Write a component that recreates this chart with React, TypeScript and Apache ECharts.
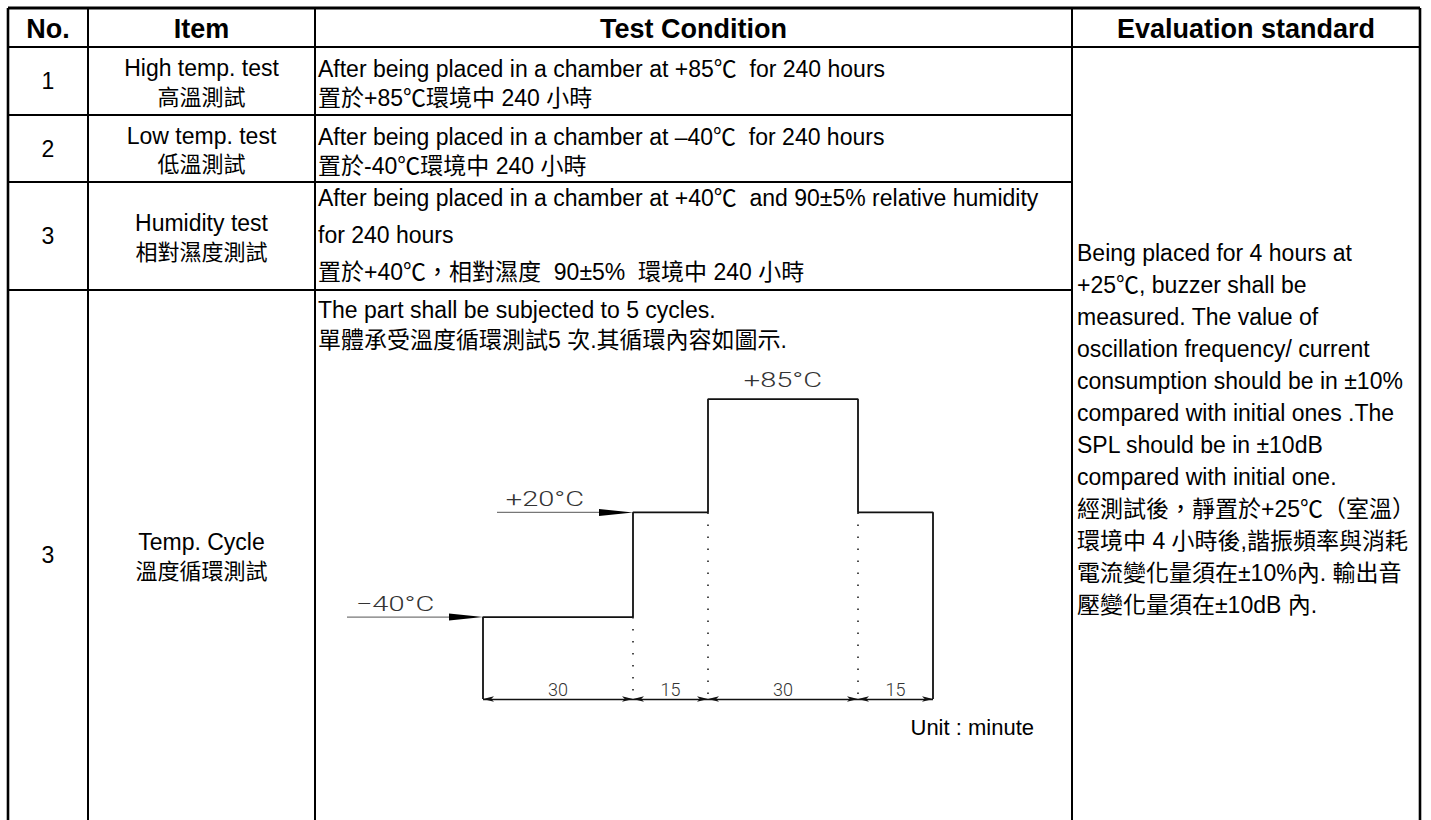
import React, { useEffect, useRef } from "react";
import * as echarts from "echarts";

// ---------------- data ----------------
const HEADERS = ["No.", "Item", "Test Condition", "Evaluation standard"];
const NOS = ["1", "2", "3", "3"];
const ITEMS_EN = ["High temp. test", "Low temp. test", "Humidity test", "Temp. Cycle"];
const ITEMS_ZH = ["高溫測試", "低溫測試", "相對濕度測試", "溫度循環測試"];
const CONDITIONS: string[][] = [
  ["After being placed in a chamber at +85℃  for 240 hours", "置於+85℃環境中 240 小時"],
  ["After being placed in a chamber at –40℃  for 240 hours", "置於-40℃環境中 240 小時"],
  [
    "After being placed in a chamber at +40℃  and 90±5% relative humidity",
    "for 240 hours",
    "置於+40℃，相對濕度  90±5%  環境中 240 小時",
  ],
  ["The part shall be subjected to 5 cycles.", "單體承受溫度循環測試5 次.其循環內容如圖示."],
];
const EVALUATION = [
  "Being placed for 4 hours at",
  "+25℃, buzzer shall be",
  "measured. The value of",
  "oscillation frequency/ current",
  "consumption should be in ±10%",
  "compared with initial ones .The",
  "SPL should be in ±10dB",
  "compared with initial one.",
  "經測試後，靜置於+25℃（室溫）",
  "環境中 4 小時後,諧振頻率與消耗",
  "電流變化量須在±10%內. 輸出音",
  "壓變化量須在±10dB 內.",
];

// temperature cycle profile
const CYCLE_LEVELS = [-40, 20, 85, 20]; // °C
const CYCLE_DURATIONS = [30, 15, 30, 15]; // minutes
const LEVEL_MARKS = ["arrow", "arrow", "top", "none"];
const UNIT_LABEL = "Unit : minute";

// ---------------- layout ----------------
const W = 1431;
const H = 820;
const COL_X = [8, 88, 315, 1072, 1420];
const ROW_Y = [8, 47, 115, 182, 290, 820];
const COND_FIRST = [22, 22, 16, 20];
const COND_STEP = [29, 29, 37, 30];
const EVAL_TOP = 253;
const EVAL_STEP = 32;

const LATIN = "'Liberation Sans', Arial, sans-serif";
const MIXED = "'Liberation Sans', 'Noto Sans CJK TC', sans-serif";
const CAD = "Roboto, 'DejaVu Sans', sans-serif";

const AXIS_MIN_T = -30;
const AXIS_MAX_T = 100;
const AXIS_MIN_V = -87;
const AXIS_MAX_V = 100;

function fmtLevel(v: number) {
  return (v > 0 ? "+" : v < 0 ? "−" : "") + Math.abs(v) + "°C";
}

export default function App() {
  const ref = useRef<HTMLDivElement>(null);

  useEffect(() => {
    if (!ref.current) return;
    const chart = echarts.init(ref.current, null, { renderer: "svg", width: W, height: H });

    const times = [0];
    CYCLE_DURATIONS.forEach((d) => times.push(times[times.length - 1] + d));
    const tEnd = times[times.length - 1];

    const profile: number[][] = [[0, AXIS_MIN_V]];
    CYCLE_LEVELS.forEach((v, i) => {
      profile.push([times[i], v]);
      profile.push([times[i + 1], v]);
    });
    profile.push([tEnd, AXIS_MIN_V]);

    const dotted: any[] = [];
    for (let i = 1; i < CYCLE_LEVELS.length; i++) {
      const lv = Math.min(CYCLE_LEVELS[i - 1], CYCLE_LEVELS[i]);
      dotted.push([{ coord: [times[i], lv] }, { coord: [times[i], AXIS_MIN_V] }]);
    }

    const dims: any[] = CYCLE_DURATIONS.map((d, i) => [
      { coord: [times[i], AXIS_MIN_V], name: String(d) },
      { coord: [times[i + 1], AXIS_MIN_V], name: String(d) },
    ]);

    chart.setOption({
      animation: false,
      backgroundColor: "#fff",
      grid: { left: 333, top: 373, width: 650, height: 326 },
      xAxis: { type: "value", min: AXIS_MIN_T, max: AXIS_MAX_T, show: false },
      yAxis: { type: "value", min: AXIS_MIN_V, max: AXIS_MAX_V, show: false },
      series: [
        {
          type: "line",
          data: profile,
          symbol: "none",
          clip: false,
          silent: true,
          lineStyle: { color: "#111", width: 1.8 },
          markLine: {
            silent: true,
            symbol: "none",
            label: { show: false },
            lineStyle: { color: "#222", width: 1.6, type: [1.5, 10.5] },
            data: dotted,
          },
        },
        {
          type: "line",
          data: [],
          silent: true,
          clip: false,
          markLine: {
            silent: true,
            symbol: ["arrow", "arrow"],
            symbolSize: [4, 11],
            lineStyle: { color: "#111", width: 1.4, type: "solid" },
            label: {
              show: true,
              position: "middle",
              distance: 1,
              formatter: "{b}",
              color: "#333",
              fontFamily: CAD,
              fontWeight: 300,
              fontSize: 18,
            },
            data: dims,
          },
        },
      ],
    });

    const px = (t: number, v: number) =>
      chart.convertToPixel({ gridIndex: 0 }, [t, v]) as number[];

    const g: any[] = [];
    const line = (x1: number, y1: number, x2: number, y2: number, w: number, color = "#000") =>
      g.push({
        type: "line",
        silent: true,
        shape: { x1, y1, x2, y2 },
        style: { stroke: color, lineWidth: w },
      });
    const text = (
      s: string,
      x: number,
      y: number,
      opt: { size?: number; family?: string; weight?: any; align?: string; fill?: string; scaleX?: number } = {}
    ) =>
      g.push({
        type: "text",
        silent: true,
        x,
        y,
        scaleX: opt.scaleX ?? 1,
        z: 10,
        style: {
          text: s,
          fontSize: opt.size ?? 23,
          fontFamily: opt.family ?? MIXED,
          fontWeight: opt.weight ?? "normal",
          fill: opt.fill ?? "#000",
          align: opt.align ?? "left",
          verticalAlign: "middle",
        },
      });

    // table frame
    line(COL_X[0], ROW_Y[0], COL_X[4], ROW_Y[0], 3);
    COL_X.forEach((x, i) => line(x, ROW_Y[0], x, H, i === 0 || i === 4 ? 2.6 : 2));
    line(COL_X[0], ROW_Y[1], COL_X[4], ROW_Y[1], 2);
    for (let r = 2; r < ROW_Y.length - 1; r++) line(COL_X[0], ROW_Y[r], COL_X[3], ROW_Y[r], 2);

    // headers
    HEADERS.forEach((h, i) =>
      text(h, (COL_X[i] + COL_X[i + 1]) / 2, 29, { size: 27, family: LATIN, weight: "bold", align: "center" })
    );

    // rows
    NOS.forEach((n, r) => {
      const top = ROW_Y[r + 1];
      const bot = ROW_Y[r + 2];
      const mid = (top + bot) / 2;
      text(n, (COL_X[0] + COL_X[1]) / 2, mid, { align: "center", family: LATIN });
      const ic = (COL_X[1] + COL_X[2]) / 2;
      text(ITEMS_EN[r], ic, mid - 13, { align: "center", family: LATIN });
      text(ITEMS_ZH[r], ic, mid + 16, { align: "center", size: 22 });
      CONDITIONS[r].forEach((c, k) =>
        text(c, COL_X[2] + 3, top + COND_FIRST[r] + k * COND_STEP[r], { size: 23 })
      );
    });

    // evaluation (merged cell)
    EVALUATION.forEach((s, k) => text(s, COL_X[3] + 5, EVAL_TOP + k * EVAL_STEP, { size: 23 }));

    // diagram annotations
    CYCLE_LEVELS.forEach((v, i) => {
      const mark = LEVEL_MARKS[i];
      if (mark === "arrow") {
        const [x, y] = px(times[i], v);
        line(x - 136, y, x - 30, y, 1.2, "#777");
        g.push({
          type: "polygon",
          silent: true,
          shape: { points: [[x, y], [x - 34, y - 3.5], [x - 34, y + 3.5]] },
          style: { fill: "#000" },
        });
        text(fmtLevel(v), x - 88, y - 13, {
          size: 20,
          family: CAD,
          weight: 300,
          align: "center",
          fill: "#333",
          scaleX: 1.45,
        });
      } else if (mark === "top") {
        const [x, y] = px((times[i] + times[i + 1]) / 2, v);
        text(fmtLevel(v), x, y - 19, {
          size: 20,
          family: CAD,
          weight: 300,
          align: "center",
          fill: "#333",
          scaleX: 1.45,
        });
      }
    });
    const [ux, uy] = px(tEnd, AXIS_MIN_V);
    text(UNIT_LABEL, ux + 101, uy + 28, { size: 22, family: LATIN, align: "right" });

    chart.setOption({ graphic: g });

    return () => chart.dispose();
  }, []);

  return (
    <div
      ref={ref}
      style={{ position: "absolute", left: 0, top: 0, width: W, height: H, background: "#fff" }}
    />
  );
}
